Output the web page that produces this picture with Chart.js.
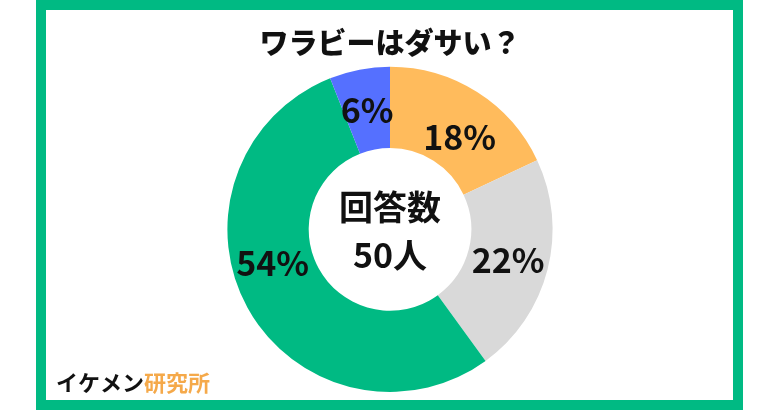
<!DOCTYPE html>
<html>
<head>
<meta charset="utf-8">
<script src="https://cdn.jsdelivr.net/npm/chart.js@4"></script>
<style>
  html, body { margin: 0; padding: 0; background: #fff; }
  #wrap { position: relative; width: 780px; height: 410px; }
  #frame {
    position: absolute; left: 36px; top: 0; width: 687px; height: 390px;
    border: 10px solid #00BA83;
  }
  canvas { position: absolute; left: 0; top: 0; }
</style>
</head>
<body>
<div id="wrap">
  <div id="frame"></div>
  <canvas id="chart" width="780" height="410"></canvas>
</div>
<script>
const categories = ['ダサい', 'ややダサい', 'ダサくない', 'わからない'];
const values = [18, 22, 54, 6];
const colors = ['#FFBB5C', '#D9D9D9', '#00BA83', '#5570FF'];
const titleText = 'ワラビーはダサい？';
const centerLines = ['回答数', '50人'];

const FONT = '"Noto Sans CJK JP", "Noto Sans", sans-serif';

// labels on slices, center text and footer
const overlay = {
    id: 'overlay',
    afterDatasetsDraw(chart, args, opts) {
        const ctx = chart.ctx;
        const arcs = chart.getDatasetMeta(0).data;
        const nudge = opts.nudge || {};
        ctx.save();
        ctx.fillStyle = '#111';
        ctx.textAlign = 'center';
        ctx.textBaseline = 'middle';
        ctx.font = 'bold 34px ' + FONT;
        arcs.forEach((arc, i) => {
            const n = nudge[i] || {};
            const mid = (arc.startAngle + arc.endAngle) / 2 + (n.angle || 0) * Math.PI / 180;
            const r = (arc.innerRadius + arc.outerRadius) / 2 + (n.radius || 0);
            ctx.fillText(values[i] + '%', arc.x + Math.cos(mid) * r, arc.y + Math.sin(mid) * r);
        });

        const c = arcs[0];
        ctx.fillText(centerLines[0], c.x, c.y - 22);
        ctx.fillText(centerLines[1], c.x, c.y + 26);

        // footer
        ctx.textAlign = 'left';
        ctx.font = 'bold 22px ' + FONT;
        ctx.fillStyle = '#111';
        const a = 'イケメン';
        ctx.fillText(a, 56, 383);
        const w = ctx.measureText(a).width;
        ctx.fillStyle = '#F5A94A';
        ctx.fillText('研究所', 56 + w, 383);
        ctx.restore();
    }
};

new Chart(document.getElementById('chart'), {
    type: 'doughnut',
    data: {
        labels: categories,
        datasets: [{
            data: values,
            backgroundColor: colors,
            borderWidth: 0
        }]
    },
    options: {
        responsive: false,
        animation: false,
        cutout: '50%',
        layout: { padding: { bottom: 18 } },
        plugins: {
            legend: { display: false },
            tooltip: { enabled: false },
            title: {
                display: true,
                text: titleText,
                color: '#111',
                font: { family: FONT, size: 29, weight: '900', lineHeight: 1.2 },
                padding: { top: 26, bottom: 6 }
            },
            overlay: {
                nudge: { 0: { angle: 4.5, radius: -6 }, 2: { angle: 13 } }
            }
        }
    },
    plugins: [overlay]
});
</script>
</body>
</html>
